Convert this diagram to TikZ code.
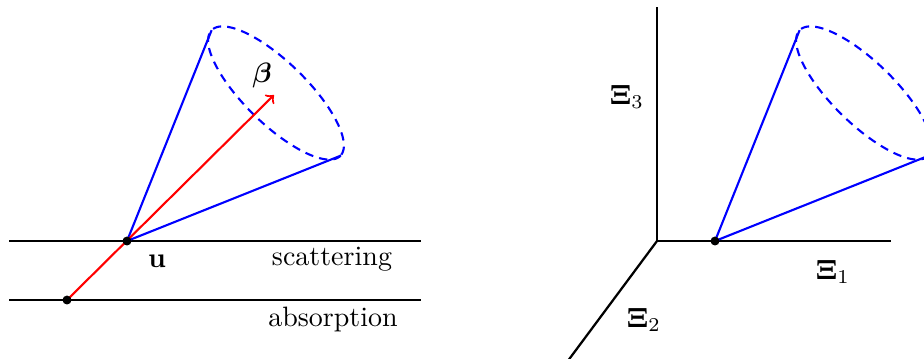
\documentclass[tikz,border=0pt]{standalone}
\usepackage{amsmath,bm}
\usetikzlibrary{calc}
\begin{document}
\begin{tikzpicture}[x=0.357pt,y=-0.357pt,
  axisline/.style={black,line width=0.8pt},
  coneline/.style={blue,line width=0.75pt},
  conerim/.style={blue,line width=0.75pt,dash pattern=on 3pt off 2.2pt},
  dot/.style={circle,inner sep=0pt,minimum size=3.2pt},
  ray/.style={red,line width=0.75pt,->}]
\useasboundingbox (0,0) rectangle (924,358);
\clip (0,0) rectangle (924,358);
% ---------- left picture ----------
\coordinate (sL) at (9,241);
\coordinate (sR) at (421,241);
\coordinate (aL) at (9,300);
\coordinate (aR) at (421,300);
\draw[axisline] (sL) -- (sR);
\draw[axisline] (aL) -- (aR);
\coordinate (c1) at (276,93);
\coordinate (e1a) at ($(c1)+(-64.4,-62.8)$);
\coordinate (e1b) at ($(c1)+(64.4,62.8)$);
\node[dot] (u) at (127,241) {};
\node[dot] (p) at (67,300) {};
\draw[coneline] (u.center) -- (e1a);
\draw[coneline] (u.center) -- (e1b);
\draw[conerim] plot[domain=0:360,samples=120,smooth cycle]
  ({276+90*0.715*cos(\x)+31*0.698*sin(\x)},{93+90*0.698*cos(\x)-31*0.715*sin(\x)});
\coordinate (tip) at (274,95);
\draw[ray] (p.center) -- (tip);
\fill (u.center) circle[radius=1.6pt];
\fill (p.center) circle[radius=1.6pt];
\node (beta) at (262,75) {$\bm{\beta}$};
\node (ulab) at (157,261) {$\mathbf{u}$};
\node (scat) at (332,259) {scattering};
\node (abs) at (333,319) {absorption};
% ---------- right picture ----------
\coordinate (O) at (657,241);
\coordinate (X3) at (657,7);
\coordinate (X1) at (891,241);
\coordinate (X2) at (544,393);
\draw[axisline] (X3) -- (O) -- (X1);
\draw[axisline] (O) -- (X2);
\node[dot] (v) at (715,241) {};
\coordinate (c2) at (864,93);
\coordinate (e2a) at ($(c2)+(-64.4,-62.8)$);
\coordinate (e2b) at ($(c2)+(64.4,62.8)$);
\draw[coneline] (v.center) -- (e2a);
\draw[coneline] (v.center) -- (e2b);
\draw[conerim] plot[domain=0:360,samples=120,smooth cycle]
  ({864+90*0.715*cos(\x)+31*0.698*sin(\x)},{93+90*0.698*cos(\x)-31*0.715*sin(\x)});
\fill (v.center) circle[radius=1.6pt];
\node (xi3) at (627,97) {$\mathbf{\Xi}_3$};
\node (xi1) at (833,272) {$\mathbf{\Xi}_1$};
\node (xi2) at (644,320) {$\mathbf{\Xi}_2$};
\end{tikzpicture}
\end{document}
